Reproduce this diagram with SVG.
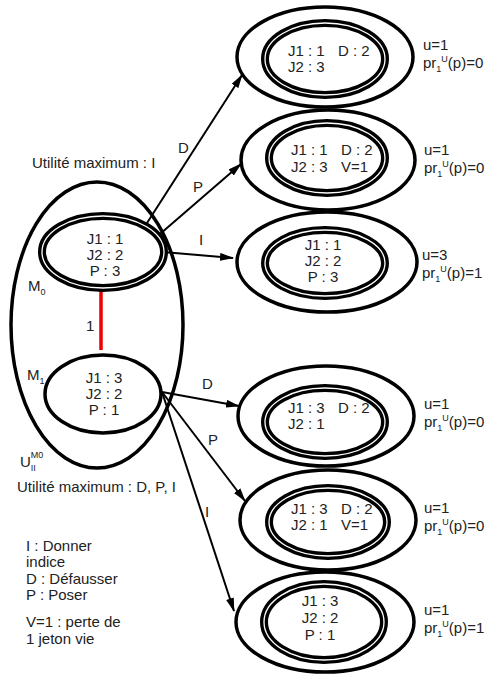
<svg xmlns="http://www.w3.org/2000/svg" width="487" height="675" viewBox="0 0 487 675">
<defs>
<style>
text{font-family:"Liberation Sans",Arial,sans-serif;fill:#222}
.t{font-size:15px}
.c{text-anchor:middle}
.l{font-size:15px}
.s{font-size:9px}
.outer{fill:none;stroke:#000;stroke-width:3.5}
.dbl{fill:none;stroke:#000;stroke-width:8}
.dblw{fill:none;stroke:#fff;stroke-width:1.3}
.edge{fill:none;stroke:#000;stroke-width:2}
</style>
<marker id="arr" markerWidth="14" markerHeight="8" refX="13" refY="4" orient="auto" markerUnits="userSpaceOnUse">
<path d="M0,0 L14,4 L0,8 Z" fill="#000"/>
</marker>
</defs>
<rect width="487" height="675" fill="#fff"/>

<g id="U">
<ellipse class="outer" cx="97" cy="325" rx="86" ry="143"/>
<text class="l" x="20" y="467">U<tspan class="s" dy="4">II</tspan><tspan class="s" dx="-5" dy="-13">M0</tspan></text>
</g>

<g id="connectors">
<line x1="101" y1="290" x2="101" y2="350" stroke="#e00" stroke-width="3.5"/>
<text class="l" x="86" y="331">1</text>
<line class="edge" x1="147" y1="223" x2="242" y2="75" marker-end="url(#arr)"/>
<line class="edge" x1="160" y1="234" x2="241" y2="164" marker-end="url(#arr)"/>
<line class="edge" x1="163" y1="252" x2="233" y2="258" marker-end="url(#arr)"/>
<line class="edge" x1="162" y1="392" x2="239" y2="406" marker-end="url(#arr)"/>
<line class="edge" x1="162" y1="392" x2="245" y2="501" marker-end="url(#arr)"/>
<line class="edge" x1="162" y1="392" x2="234" y2="611" marker-end="url(#arr)"/>
<text class="l" x="178" y="153">D</text>
<text class="l" x="193" y="192">P</text>
<text class="l" x="199" y="245">I</text>
<text class="l" x="202" y="389">D</text>
<text class="l" x="208" y="445">P</text>
<text class="l" x="205" y="517">I</text>
</g>

<g id="M0">
<ellipse class="dbl" cx="103" cy="252" rx="61" ry="36"/>
<ellipse class="dblw" cx="103" cy="252" rx="61" ry="36"/>
<text class="t c" x="105" y="244">J1 : 1</text>
<text class="t c" x="105" y="260">J2 : 2</text>
<text class="t c" x="105" y="276">P  : 3</text>
<text class="l" x="28" y="291">M<tspan class="s" dy="4">0</tspan></text>
</g>

<g id="M1">
<ellipse class="outer" cx="103" cy="394" rx="58" ry="39" stroke-width="4"/>
<text class="t c" x="104" y="383">J1 : 3</text>
<text class="t c" x="104" y="399">J2 : 2</text>
<text class="t c" x="104" y="415">P  : 1</text>
<text class="l" x="27" y="380">M<tspan class="s" dy="4">1</tspan></text>
</g>

<g id="n1">
<ellipse class="outer" cx="325" cy="57" rx="88" ry="50"/>
<ellipse class="dbl" cx="325" cy="59" rx="60" ry="36"/>
<ellipse class="dblw" cx="325" cy="59" rx="60" ry="36"/>
<text class="t" x="288" y="56">J1 : 1</text>
<text class="t" x="338" y="56">D : 2</text>
<text class="t" x="288" y="72">J2 : 3</text>
<text class="l" x="423" y="50">u=1</text>
<text class="l" x="423" y="68">pr<tspan class="s" dy="4">1</tspan><tspan class="s" dy="-10">U</tspan><tspan dy="6">(p)=0</tspan></text>
</g>

<g id="n2">
<ellipse class="outer" cx="328" cy="160" rx="87" ry="50"/>
<ellipse class="dbl" cx="327" cy="158" rx="58" ry="35"/>
<ellipse class="dblw" cx="327" cy="158" rx="58" ry="35"/>
<text class="t" x="291" y="155">J1 : 1</text>
<text class="t" x="341" y="155">D : 2</text>
<text class="t" x="291" y="172">J2 : 3</text>
<text class="t" x="341" y="172">V=1</text>
<text class="l" x="424" y="155">u=1</text>
<text class="l" x="424" y="173">pr<tspan class="s" dy="4">1</tspan><tspan class="s" dy="-10">U</tspan><tspan dy="6">(p)=0</tspan></text>
</g>

<g id="n3">
<ellipse class="outer" cx="327" cy="262" rx="90" ry="50"/>
<ellipse class="dbl" cx="325" cy="263" rx="60" ry="33"/>
<ellipse class="dblw" cx="325" cy="263" rx="60" ry="33"/>
<text class="t c" x="323" y="250">J1 : 1</text>
<text class="t c" x="323" y="266">J2 : 2</text>
<text class="t c" x="323" y="282">P  : 3</text>
<text class="l" x="422" y="260">u=3</text>
<text class="l" x="422" y="278">pr<tspan class="s" dy="4">1</tspan><tspan class="s" dy="-10">U</tspan><tspan dy="6">(p)=1</tspan></text>
</g>

<g id="n4">
<ellipse class="outer" cx="326" cy="416" rx="88" ry="50"/>
<ellipse class="dbl" cx="325" cy="422" rx="60" ry="34"/>
<ellipse class="dblw" cx="325" cy="422" rx="60" ry="34"/>
<text class="t" x="288" y="413">J1 : 3</text>
<text class="t" x="338" y="413">D : 2</text>
<text class="t" x="288" y="429">J2 : 1</text>
<text class="l" x="424" y="409">u=1</text>
<text class="l" x="424" y="427">pr<tspan class="s" dy="4">1</tspan><tspan class="s" dy="-10">U</tspan><tspan dy="6">(p)=0</tspan></text>
</g>

<g id="n5">
<ellipse class="outer" cx="328" cy="520" rx="88" ry="50"/>
<ellipse class="dbl" cx="328" cy="522" rx="59" ry="34"/>
<ellipse class="dblw" cx="328" cy="522" rx="59" ry="34"/>
<text class="t" x="291" y="514">J1 : 3</text>
<text class="t" x="341" y="514">D : 2</text>
<text class="t" x="291" y="530">J2 : 1</text>
<text class="t" x="341" y="530">V=1</text>
<text class="l" x="424" y="513">u=1</text>
<text class="l" x="424" y="531">pr<tspan class="s" dy="4">1</tspan><tspan class="s" dy="-10">U</tspan><tspan dy="6">(p)=0</tspan></text>
</g>

<g id="n6">
<ellipse class="outer" cx="325" cy="622" rx="89" ry="50"/>
<ellipse class="dbl" cx="324" cy="622" rx="60" ry="38"/>
<ellipse class="dblw" cx="324" cy="622" rx="60" ry="38"/>
<text class="t c" x="320" y="606">J1 : 3</text>
<text class="t c" x="320" y="623">J2 : 2</text>
<text class="t c" x="320" y="640">P  : 1</text>
<text class="l" x="424" y="615">u=1</text>
<text class="l" x="424" y="633">pr<tspan class="s" dy="4">1</tspan><tspan class="s" dy="-10">U</tspan><tspan dy="6">(p)=1</tspan></text>
</g>

<g id="labels">
<text class="l" x="32" y="168">Utilité maximum : I</text>
<text class="l" x="17" y="492">Utilité maximum : D, P, I</text>
<text class="l" x="26" y="551">I : Donner</text>
<text class="l" x="26" y="567">indice</text>
<text class="l" x="26" y="584">D : Défausser</text>
<text class="l" x="26" y="600">P : Poser</text>
<text class="l" x="26" y="627">V=1 : perte de</text>
<text class="l" x="26" y="644">1 jeton vie</text>
</g>
</svg>
